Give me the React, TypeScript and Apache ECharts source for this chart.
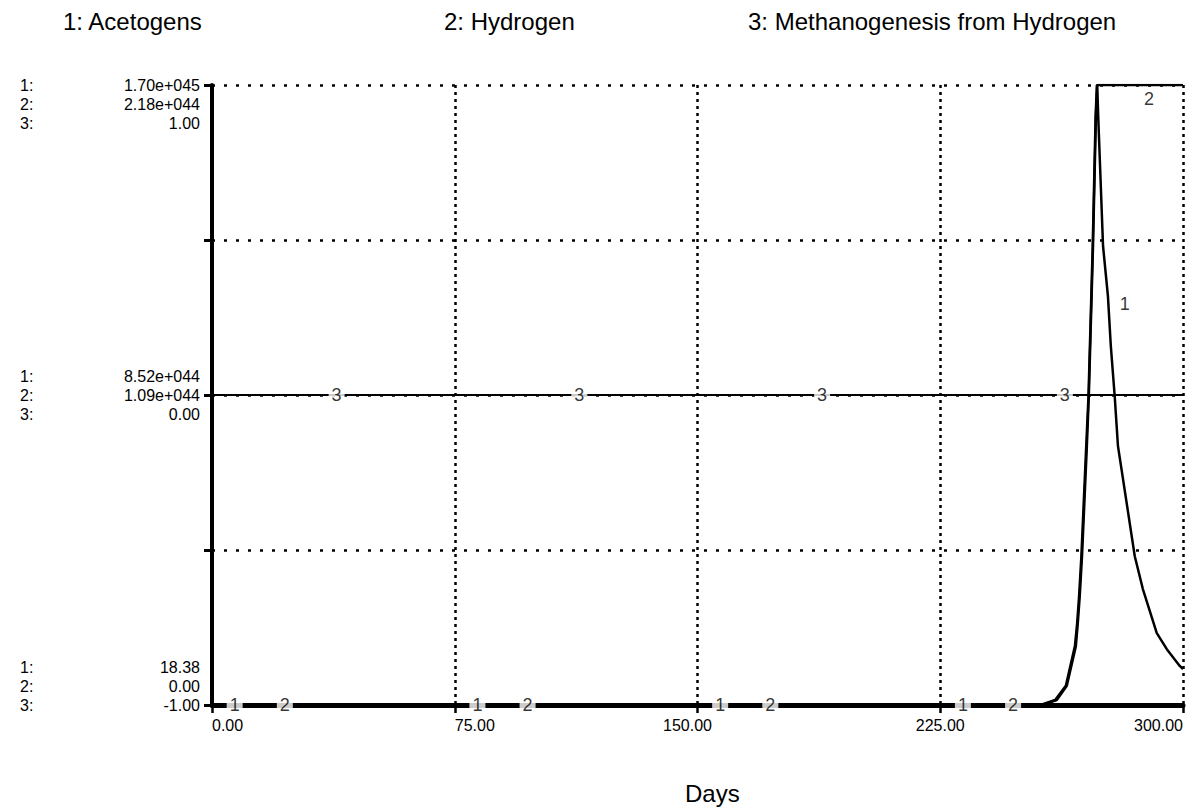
import React, { useEffect, useRef } from "react";
import * as echarts from "echarts";

// ---------- data ----------
const titles = ["1: Acetogens", "2: Hydrogen", "3: Methanogenesis from Hydrogen"];
const xTicks = [0, 75, 150, 225, 300];
const xTickLabels = ["0.00", "75.00", "150.00", "225.00", "300.00"];

// scale labels for each series: [min, mid, max]
const acetogensScale = ["18.38", "8.52e+044", "1.70e+045"];
const hydrogenScale = ["0.00", "1.09e+044", "2.18e+044"];
const methanoScale = ["-1.00", "0.00", "1.00"];
const seriesPrefixes = ["1:", "2:", "3:"];

const acetogensMin = 18.38;
const acetogensMax = 1.7e45;
const hydrogenMin = 0;
const hydrogenMax = 2.18e44;
const methanoMin = -1;
const methanoMax = 1;

const acetogensDays = [0, 256.5, 261, 264.1, 266.9, 267.5, 268.1, 268.8, 270.3, 270.9, 272.2, 273.1, 273.5, 273.8, 275.3, 276.8, 277.7, 278.9, 279.9, 285.1, 287.6, 291.9, 295.0, 299.0, 300];
const acetogensValues = [18.38, 18.38, 1.36e43, 5.27e43, 1.615e44, 2.244e44, 2.992e44, 4.08e44, 7.106e44, 8.466e44, 1.258e45, 1.615e45, 1.7e45, 1.615e45, 1.258e45, 1.122e45, 9.843e44, 8.466e44, 7.106e44, 4.08e44, 3.179e44, 1.972e44, 1.53e44, 1.071e44, 9.86e43];

const hydrogenDays = [0, 256, 260.5, 263.8, 266.6, 267.3, 267.9, 268.6, 270.1, 270.8, 272.1, 273.0, 273.4, 300];
const hydrogenValues = [0, 0, 1.74e42, 6.76e42, 2.07e43, 2.88e43, 3.84e43, 5.23e43, 9.11e43, 1.086e44, 1.613e44, 2.071e44, 2.18e44, 2.18e44];

const methanoDays = [0, 300];
const methanoValues = [0, 0];

// positions of the series number markers
const label1Days = [7, 82, 157, 232, 282];
const label1Values = [18.38, 18.38, 18.38, 18.38, 1.1e45];
const label2Days = [22.5, 97.5, 172.5, 247.5, 289.5];
const label2Values = [0, 0, 0, 0, 2.13e44];
const label3Days = [38.5, 113.5, 188.5, 263.5];
const label3Values = [0, 0, 0, 0];

// ---------- helpers ----------
const FONT = "'Liberation Sans', Arial, Helvetica, sans-serif";
const LH = 19;
const LABEL_SIZE = 16;
const zip = (xs: number[], ys: number[]) => xs.map((x, i) => [x, ys[i]]);

const hiddenAxis = (min: number, max: number) => ({
  type: "value",
  min,
  max,
  show: false,
  position: "left",
  splitLine: { show: false },
});

const markerSeries = (name: string, text: string, days: number[], values: number[], yAxisIndex: number) => ({
  name,
  type: "scatter",
  yAxisIndex,
  symbolSize: 1,
  itemStyle: { color: "rgba(0,0,0,0)" },
  z: 10,
  data: zip(days, values),
  label: {
    show: true,
    position: "inside",
    formatter: () => text,
    color: "#000",
    fontSize: 18,
    fontFamily: FONT,
    backgroundColor: "#fff",
    padding: [1, 3, 0, 3],
  },
  silent: true,
});

const xLabelRich = {
  a: { fontSize: 16, fontFamily: FONT, color: "#000" },
  r: { fontSize: 16, fontFamily: FONT, color: "#000", padding: [0, 0, 0, 40] },
  l: { fontSize: 16, fontFamily: FONT, color: "#000", padding: [0, 20, 0, 0] },
};

export default function App() {
  const ref = useRef<HTMLDivElement>(null);

  useEffect(() => {
    document.body.style.margin = "0";
    const chart = echarts.init(ref.current!, null, { renderer: "svg" });
    const staticGraphic: any[] = [
      { type: "text", left: 63, top: 9, style: { text: titles[0], fontSize: 24, fontFamily: FONT, fill: "#000" } },
      { type: "text", left: 444, top: 9, style: { text: titles[1], fontSize: 24, fontFamily: FONT, fill: "#000" } },
      { type: "text", left: 748, top: 9, style: { text: titles[2], fontSize: 24, fontFamily: FONT, fill: "#000" } },
      { type: "text", left: 685, top: 781, style: { text: "Days", fontSize: 24, fontFamily: FONT, fill: "#000" } },
    ];
    const option: any = {
      animation: false,
      backgroundColor: "#fff",
      textStyle: { fontFamily: FONT },
      grid: {
        left: 212,
        right: 10,
        top: 85,
        bottom: 107,
        containLabel: false,
        outerBoundsMode: "none",
      },
      graphic: staticGraphic,
      xAxis: {
        type: "value",
        min: xTicks[0],
        max: xTicks[xTicks.length - 1],
        interval: 75,
        axisLine: { show: true, onZero: false, lineStyle: { color: "#000", width: 5 } },
        axisTick: { show: true, length: 8, lineStyle: { color: "#000", width: 2.5 } },
        splitLine: { show: true, lineStyle: { color: "#000", width: 2.5, type: [3, 4] } },
        axisLabel: {
          margin: 12,
          color: "#000",
          fontSize: 16,
          fontFamily: FONT,
          formatter: (v: number) => {
            const i = xTicks.indexOf(v);
            const t = i >= 0 ? xTickLabels[i] : v.toFixed(2);
            if (v === 75) return `{r|${t}}`;
            if (v === 150) return `{l|${t}}`;
            return `{a|${t}}`;
          },
          rich: xLabelRich,
          alignMinLabel: "left",
          alignMaxLabel: "right",
        },
      },
      yAxis: [
        hiddenAxis(acetogensMin, acetogensMax),
        hiddenAxis(hydrogenMin, hydrogenMax),
        {
          type: "value",
          min: methanoMin,
          max: methanoMax,
          interval: 0.5,
          position: "left",
          axisLine: { show: true, onZero: false, lineStyle: { color: "#000", width: 4 } },
          axisTick: { show: true, length: 8, lineStyle: { color: "#000", width: 3 } },
          splitLine: { show: true, lineStyle: { color: "#000", width: 2.5, type: [3, 9] } },
          axisLabel: { show: false },
        },
      ],
      series: [
        {
          name: titles[0],
          type: "line",
          yAxisIndex: 0,
          showSymbol: false,
          symbol: "none",
          lineStyle: { color: "#000", width: 2.5 },
          data: zip(acetogensDays, acetogensValues),
          z: 3,
        },
        {
          name: titles[1],
          type: "line",
          yAxisIndex: 1,
          showSymbol: false,
          symbol: "none",
          lineStyle: { color: "#000", width: 2.5 },
          data: zip(hydrogenDays, hydrogenValues),
          z: 3,
        },
        {
          name: titles[2],
          type: "line",
          yAxisIndex: 2,
          showSymbol: false,
          symbol: "none",
          lineStyle: { color: "#000", width: 2 },
          data: zip(methanoDays, methanoValues),
          z: 3,
        },
        markerSeries("m1", "1", label1Days, label1Values, 0),
        markerSeries("m2", "2", label2Days, label2Values, 1),
        markerSeries("m3", "3", label3Days, label3Values, 2),
      ],
    };
    chart.setOption(option);

    // scale label blocks, positioned from the axis scale
    const axisX = chart.convertToPixel({ xAxisIndex: 0 }, xTicks[0]) as number;
    const blocks = [
      { value: methanoMax, idx: 2, rowAtTick: 0 },
      { value: (methanoMax + methanoMin) / 2, idx: 1, rowAtTick: 1 },
      { value: methanoMin, idx: 0, rowAtTick: 2 },
    ];
    const blockGraphic: any[] = [];
    blocks.forEach((b) => {
      const ty = chart.convertToPixel({ yAxisIndex: 2 }, b.value) as number;
      const top = ty - LH / 2 - b.rowAtTick * LH;
      blockGraphic.push({
        type: "text",
        x: 20,
        y: top,
        style: {
          text: seriesPrefixes.join("\n"),
          fontSize: LABEL_SIZE,
          fontFamily: FONT,
          fill: "#000",
          lineHeight: LH,
          align: "left",
          verticalAlign: "top",
        },
      });
      blockGraphic.push({
        type: "text",
        x: axisX - 12,
        y: top,
        style: {
          text: [acetogensScale[b.idx], hydrogenScale[b.idx], methanoScale[b.idx]].join("\n"),
          fontSize: LABEL_SIZE,
          fontFamily: FONT,
          fill: "#000",
          lineHeight: LH,
          align: "right",
          verticalAlign: "top",
        },
      });
    });
    chart.setOption({ graphic: [...staticGraphic, ...blockGraphic] });

    return () => chart.dispose();
  }, []);

  return (
    <div
      ref={ref}
      style={{ position: "absolute", left: 0, top: 0, width: 1193, height: 812 }}
    />
  );
}
